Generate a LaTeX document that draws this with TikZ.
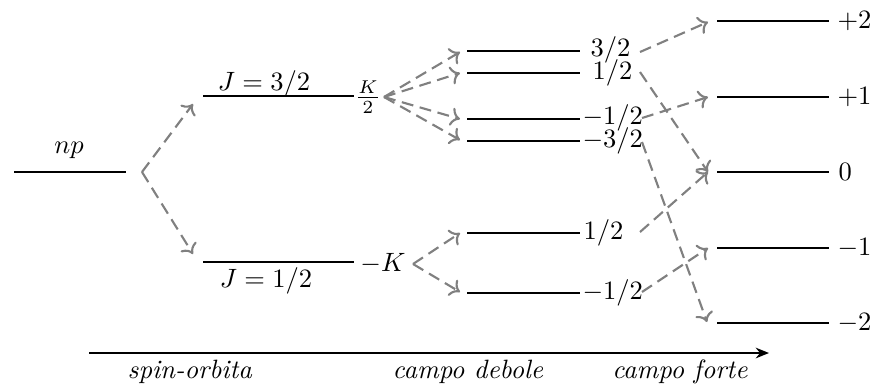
\documentclass[tikz,border=0pt]{standalone}
\usetikzlibrary{arrows.meta}
\begin{document}
\begin{tikzpicture}[x=0.01326cm,y=-0.01326cm,
  level/.style={line width=1.1pt},
  split/.style={gray, line width=0.8pt, dash pattern=on 4.5pt off 2.5pt, -{To[length=3.5pt,width=7pt]}},
  lab/.style={inner sep=0pt},
  axis/.style={line width=1.1pt, -{Stealth[length=5pt,width=4pt]}}]
\useasboundingbox (0,0) rectangle (872,385);
% ---- level endpoints
\coordinate (npA) at (14,172);  \coordinate (npB) at (126,172);
\coordinate (j3A) at (203,96);  \coordinate (j3B) at (354,96);
\coordinate (j1A) at (203,262); \coordinate (j1B) at (354,262);
\coordinate (w1A) at (467,51);  \coordinate (w1B) at (580,51);
\coordinate (w2A) at (467,73);  \coordinate (w2B) at (580,73);
\coordinate (w3A) at (467,119); \coordinate (w3B) at (580,119);
\coordinate (w4A) at (467,141); \coordinate (w4B) at (580,141);
\coordinate (w5A) at (467,233); \coordinate (w5B) at (580,233);
\coordinate (w6A) at (467,293); \coordinate (w6B) at (580,293);
\coordinate (s1A) at (717,21);  \coordinate (s1B) at (829,21);
\coordinate (s2A) at (717,97);  \coordinate (s2B) at (829,97);
\coordinate (s3A) at (717,172); \coordinate (s3B) at (829,172);
\coordinate (s4A) at (717,248); \coordinate (s4B) at (829,248);
\coordinate (s5A) at (717,323); \coordinate (s5B) at (829,323);
\foreach \l in {np,j3,j1,w1,w2,w3,w4,w5,w6,s1,s2,s3,s4,s5}
  \draw[level] (\l A) -- (\l B);
% ---- labels
\node[lab] (lnp) at (69,150) {$np$};
\node[lab] (lj3) at (264,84) {$J=3/2$};
\node[lab] (lj1) at (266,281) {$J=1/2$};
\node[lab] (lk2) at (368,97) {$\frac{K}{2}$};
\node[lab] (lmk) at (383,264) {$-K$};
\node[lab,anchor=west] (lw1) at (590,50) {$3/2$};
\node[lab,anchor=west] (lw2) at (592,73) {$1/2$};
\node[lab,anchor=west] (lw3) at (582,118) {$-1/2$};
\node[lab,anchor=west] (lw4) at (582,141) {$-3/2$};
\node[lab,anchor=west] (lw5) at (583,233) {$1/2$};
\node[lab,anchor=west] (lw6) at (582,293) {$-1/2$};
\node[lab,anchor=west] (ls1) at (837,21) {$+2$};
\node[lab,anchor=west] (ls2) at (837,97) {$+1$};
\node[lab,anchor=west] (ls3) at (838,172) {$0$};
\node[lab,anchor=west] (ls4) at (837,248) {$-1$};
\node[lab,anchor=west] (ls5) at (837,323) {$-2$};
% ---- arrow points
\coordinate (v0) at (142,172);
\coordinate (t3) at (193,104);
\coordinate (t1) at (193,254);
\coordinate (vk) at (384,97);
\coordinate (vm) at (413,264);
\coordinate (e1) at (460,52);
\coordinate (e2) at (460,73);
\coordinate (e3) at (460,119);
\coordinate (e4) at (460,140);
\coordinate (e5) at (460,233);
\coordinate (e6) at (460,292);
\coordinate (o1) at (640,52);
\coordinate (o2) at (640,72);
\coordinate (o3) at (642,118);
\coordinate (o4) at (642,142);
\coordinate (o5) at (640,232);
\coordinate (o6) at (642,292);
\coordinate (f1) at (708,22);
\coordinate (f2) at (708,97);
\coordinate (f3) at (708,172);
\coordinate (f4) at (708,248);
\coordinate (f5) at (707,322);
% ---- splitting arrows
\draw[split] (v0) -- (t3);
\draw[split] (v0) -- (t1);
\foreach \e in {e1,e2,e3,e4} \draw[split] (vk) -- (\e);
\foreach \e in {e5,e6} \draw[split] (vm) -- (\e);
\draw[split] (o1) -- (f1);
\draw[split] (o2) -- (f3);
\draw[split] (o3) -- (f2);
\draw[split] (o4) -- (f5);
\draw[split] (o5) -- (f3);
\draw[split] (o6) -- (f4);
% ---- axis
\coordinate (ax0) at (89,353);
\coordinate (ax1) at (769,353);
\draw[axis] (ax0) -- (ax1);
\node[lab] (a1) at (190,372) {\textit{spin-orbita}};
\node[lab] (a2) at (468,372) {\textit{campo debole}};
\node[lab] (a3) at (680,372) {\textit{campo forte}};
\end{tikzpicture}
\end{document}
